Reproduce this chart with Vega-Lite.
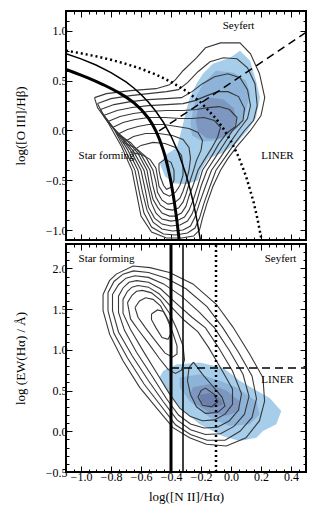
{
"$schema":"https://vega.github.io/schema/vega-lite/v6.json",
"padding":{"left":13,"top":9,"right":5,"bottom":3},
"spacing":0,
"config":{"view":{"stroke":"black","strokeWidth":2},"font":"Liberation Serif","concat":{"spacing":0},
"axis":{"labelFont":"Liberation Serif","titleFont":"Liberation Serif","labelFontSize":12,"titleFontSize":13,"titleFontWeight":"normal","labelColor":"black","titleColor":"black","tickColor":"black","tickWidth":1,"domain":false,"grid":false,"labelOverlap":false,"labelFlush":false,"minExtent":0}},
"datasets":{
"topC":[
{"c":"t1","x":-0.91,"y":0.33},{"c":"t1","x":-0.83,"y":0.37},{"c":"t1","x":-0.67,"y":0.40},{"c":"t1","x":-0.50,"y":0.42},{"c":"t1","x":-0.41,"y":0.46},{"c":"t1","x":-0.37,"y":0.51},{"c":"t1","x":-0.32,"y":0.60},{"c":"t1","x":-0.23,"y":0.73},{"c":"t1","x":-0.17,"y":0.83},{"c":"t1","x":-0.07,"y":0.88},{"c":"t1","x":0.06,"y":0.88},{"c":"t1","x":0.13,"y":0.77},{"c":"t1","x":0.19,"y":0.57},{"c":"t1","x":0.225,"y":0.33},{"c":"t1","x":0.20,"y":0.15},{"c":"t1","x":0.13,"y":0.0},{"c":"t1","x":0.04,"y":-0.16},{"c":"t1","x":-0.02,"y":-0.28},{"c":"t1","x":-0.07,"y":-0.40},{"c":"t1","x":-0.12,"y":-0.56},{"c":"t1","x":-0.16,"y":-0.73},{"c":"t1","x":-0.19,"y":-0.88},{"c":"t1","x":-0.21,"y":-1.00},{"c":"t1","x":-0.25,"y":-1.06},{"c":"t1","x":-0.33,"y":-1.08},{"c":"t1","x":-0.43,"y":-1.08},{"c":"t1","x":-0.53,"y":-1.02},{"c":"t1","x":-0.60,"y":-0.86},{"c":"t1","x":-0.63,"y":-0.63},{"c":"t1","x":-0.66,"y":-0.40},{"c":"t1","x":-0.73,"y":-0.16},{"c":"t1","x":-0.82,"y":0.08},{"c":"t1","x":-0.89,"y":0.23},{"c":"t1","x":-0.91,"y":0.33},
{"c":"t2","x":-0.89,"y":0.27},{"c":"t2","x":-0.80,"y":0.32},{"c":"t2","x":-0.67,"y":0.35},{"c":"t2","x":-0.55,"y":0.37},{"c":"t2","x":-0.43,"y":0.39},{"c":"t2","x":-0.35,"y":0.41},{"c":"t2","x":-0.29,"y":0.48},{"c":"t2","x":-0.22,"y":0.59},{"c":"t2","x":-0.14,"y":0.69},{"c":"t2","x":-0.05,"y":0.73},{"c":"t2","x":0.04,"y":0.72},{"c":"t2","x":0.11,"y":0.63},{"c":"t2","x":0.16,"y":0.47},{"c":"t2","x":0.175,"y":0.25},{"c":"t2","x":0.15,"y":0.10},{"c":"t2","x":0.09,"y":0.0},{"c":"t2","x":0.02,"y":-0.14},{"c":"t2","x":-0.04,"y":-0.27},{"c":"t2","x":-0.10,"y":-0.40},{"c":"t2","x":-0.14,"y":-0.56},{"c":"t2","x":-0.18,"y":-0.73},{"c":"t2","x":-0.21,"y":-0.88},{"c":"t2","x":-0.24,"y":-0.98},{"c":"t2","x":-0.29,"y":-1.03},{"c":"t2","x":-0.37,"y":-1.05},{"c":"t2","x":-0.45,"y":-1.04},{"c":"t2","x":-0.53,"y":-0.97},{"c":"t2","x":-0.58,"y":-0.83},{"c":"t2","x":-0.61,"y":-0.63},{"c":"t2","x":-0.64,"y":-0.40},{"c":"t2","x":-0.71,"y":-0.18},{"c":"t2","x":-0.79,"y":0.04},{"c":"t2","x":-0.86,"y":0.18},{"c":"t2","x":-0.89,"y":0.27},
{"c":"t3","x":-0.87,"y":0.21},{"c":"t3","x":-0.78,"y":0.26},{"c":"t3","x":-0.67,"y":0.29},{"c":"t3","x":-0.55,"y":0.31},{"c":"t3","x":-0.43,"y":0.32},{"c":"t3","x":-0.33,"y":0.33},{"c":"t3","x":-0.26,"y":0.39},{"c":"t3","x":-0.19,"y":0.47},{"c":"t3","x":-0.11,"y":0.54},{"c":"t3","x":-0.02,"y":0.57},{"c":"t3","x":0.06,"y":0.53},{"c":"t3","x":0.11,"y":0.41},{"c":"t3","x":0.13,"y":0.25},{"c":"t3","x":0.11,"y":0.12},{"c":"t3","x":0.05,"y":0.0},{"c":"t3","x":-0.01,"y":-0.13},{"c":"t3","x":-0.07,"y":-0.27},{"c":"t3","x":-0.13,"y":-0.40},{"c":"t3","x":-0.17,"y":-0.56},{"c":"t3","x":-0.21,"y":-0.73},{"c":"t3","x":-0.24,"y":-0.87},{"c":"t3","x":-0.27,"y":-0.96},{"c":"t3","x":-0.32,"y":-1.00},{"c":"t3","x":-0.39,"y":-1.01},{"c":"t3","x":-0.46,"y":-0.99},{"c":"t3","x":-0.52,"y":-0.92},{"c":"t3","x":-0.56,"y":-0.80},{"c":"t3","x":-0.59,"y":-0.62},{"c":"t3","x":-0.62,"y":-0.40},{"c":"t3","x":-0.69,"y":-0.19},{"c":"t3","x":-0.77,"y":0.0},{"c":"t3","x":-0.84,"y":0.13},{"c":"t3","x":-0.87,"y":0.21},
{"c":"t4","x":-0.85,"y":0.15},{"c":"t4","x":-0.76,"y":0.20},{"c":"t4","x":-0.66,"y":0.23},{"c":"t4","x":-0.55,"y":0.25},{"c":"t4","x":-0.43,"y":0.26},{"c":"t4","x":-0.32,"y":0.27},{"c":"t4","x":-0.24,"y":0.30},{"c":"t4","x":-0.16,"y":0.35},{"c":"t4","x":-0.09,"y":0.39},{"c":"t4","x":-0.02,"y":0.39},{"c":"t4","x":0.05,"y":0.34},{"c":"t4","x":0.09,"y":0.22},{"c":"t4","x":0.08,"y":0.10},{"c":"t4","x":0.01,"y":0.0},{"c":"t4","x":-0.04,"y":-0.12},{"c":"t4","x":-0.10,"y":-0.26},{"c":"t4","x":-0.16,"y":-0.40},{"c":"t4","x":-0.20,"y":-0.56},{"c":"t4","x":-0.23,"y":-0.72},{"c":"t4","x":-0.26,"y":-0.84},{"c":"t4","x":-0.29,"y":-0.91},{"c":"t4","x":-0.34,"y":-0.95},{"c":"t4","x":-0.40,"y":-0.96},{"c":"t4","x":-0.46,"y":-0.94},{"c":"t4","x":-0.51,"y":-0.88},{"c":"t4","x":-0.55,"y":-0.77},{"c":"t4","x":-0.57,"y":-0.61},{"c":"t4","x":-0.60,"y":-0.40},{"c":"t4","x":-0.67,"y":-0.20},{"c":"t4","x":-0.75,"y":-0.03},{"c":"t4","x":-0.82,"y":0.08},{"c":"t4","x":-0.85,"y":0.15},
{"c":"t5","x":-0.82,"y":0.09},{"c":"t5","x":-0.74,"y":0.14},{"c":"t5","x":-0.65,"y":0.17},{"c":"t5","x":-0.55,"y":0.19},{"c":"t5","x":-0.43,"y":0.20},{"c":"t5","x":-0.32,"y":0.20},{"c":"t5","x":-0.23,"y":0.21},{"c":"t5","x":-0.15,"y":0.23},{"c":"t5","x":-0.08,"y":0.24},{"c":"t5","x":-0.01,"y":0.21},{"c":"t5","x":0.04,"y":0.13},{"c":"t5","x":0.03,"y":0.04},{"c":"t5","x":-0.03,"y":-0.03},{"c":"t5","x":-0.08,"y":-0.13},{"c":"t5","x":-0.13,"y":-0.26},{"c":"t5","x":-0.19,"y":-0.40},{"c":"t5","x":-0.22,"y":-0.55},{"c":"t5","x":-0.25,"y":-0.69},{"c":"t5","x":-0.28,"y":-0.80},{"c":"t5","x":-0.31,"y":-0.87},{"c":"t5","x":-0.35,"y":-0.90},{"c":"t5","x":-0.40,"y":-0.91},{"c":"t5","x":-0.46,"y":-0.89},{"c":"t5","x":-0.50,"y":-0.83},{"c":"t5","x":-0.53,"y":-0.73},{"c":"t5","x":-0.55,"y":-0.60},{"c":"t5","x":-0.58,"y":-0.40},{"c":"t5","x":-0.65,"y":-0.21},{"c":"t5","x":-0.73,"y":-0.06},{"c":"t5","x":-0.79,"y":0.03},{"c":"t5","x":-0.82,"y":0.09},
{"c":"t6","x":-0.79,"y":0.03},{"c":"t6","x":-0.72,"y":0.08},{"c":"t6","x":-0.64,"y":0.11},{"c":"t6","x":-0.55,"y":0.13},{"c":"t6","x":-0.44,"y":0.13},{"c":"t6","x":-0.34,"y":0.12},{"c":"t6","x":-0.26,"y":0.12},{"c":"t6","x":-0.18,"y":0.13},{"c":"t6","x":-0.11,"y":0.10},{"c":"t6","x":-0.07,"y":0.03},{"c":"t6","x":-0.09,"y":-0.07},{"c":"t6","x":-0.13,"y":-0.18},{"c":"t6","x":-0.18,"y":-0.30},{"c":"t6","x":-0.22,"y":-0.40},{"c":"t6","x":-0.25,"y":-0.54},{"c":"t6","x":-0.28,"y":-0.66},{"c":"t6","x":-0.30,"y":-0.76},{"c":"t6","x":-0.33,"y":-0.83},{"c":"t6","x":-0.37,"y":-0.86},{"c":"t6","x":-0.41,"y":-0.86},{"c":"t6","x":-0.46,"y":-0.83},{"c":"t6","x":-0.49,"y":-0.77},{"c":"t6","x":-0.52,"y":-0.69},{"c":"t6","x":-0.54,"y":-0.57},{"c":"t6","x":-0.56,"y":-0.40},{"c":"t6","x":-0.62,"y":-0.23},{"c":"t6","x":-0.70,"y":-0.09},{"c":"t6","x":-0.76,"y":-0.02},{"c":"t6","x":-0.79,"y":0.03},
{"c":"t7","x":-0.76,"y":-0.04},{"c":"t7","x":-0.69,"y":0.01},{"c":"t7","x":-0.62,"y":0.04},{"c":"t7","x":-0.55,"y":0.06},{"c":"t7","x":-0.45,"y":0.06},{"c":"t7","x":-0.36,"y":0.04},{"c":"t7","x":-0.28,"y":0.02},{"c":"t7","x":-0.22,"y":-0.02},{"c":"t7","x":-0.19,"y":-0.10},{"c":"t7","x":-0.20,"y":-0.20},{"c":"t7","x":-0.23,"y":-0.30},{"c":"t7","x":-0.25,"y":-0.40},{"c":"t7","x":-0.28,"y":-0.54},{"c":"t7","x":-0.30,"y":-0.64},{"c":"t7","x":-0.32,"y":-0.72},{"c":"t7","x":-0.35,"y":-0.78},{"c":"t7","x":-0.39,"y":-0.80},{"c":"t7","x":-0.43,"y":-0.79},{"c":"t7","x":-0.47,"y":-0.75},{"c":"t7","x":-0.50,"y":-0.67},{"c":"t7","x":-0.52,"y":-0.56},{"c":"t7","x":-0.54,"y":-0.40},{"c":"t7","x":-0.60,"y":-0.24},{"c":"t7","x":-0.67,"y":-0.12},{"c":"t7","x":-0.73,"y":-0.07},{"c":"t7","x":-0.76,"y":-0.04},
{"c":"t8","x":-0.72,"y":-0.12},{"c":"t8","x":-0.65,"y":-0.06},{"c":"t8","x":-0.57,"y":-0.03},{"c":"t8","x":-0.48,"y":-0.03},{"c":"t8","x":-0.39,"y":-0.05},{"c":"t8","x":-0.32,"y":-0.09},{"c":"t8","x":-0.28,"y":-0.17},{"c":"t8","x":-0.27,"y":-0.28},{"c":"t8","x":-0.28,"y":-0.40},{"c":"t8","x":-0.30,"y":-0.52},{"c":"t8","x":-0.32,"y":-0.61},{"c":"t8","x":-0.34,"y":-0.68},{"c":"t8","x":-0.38,"y":-0.73},{"c":"t8","x":-0.42,"y":-0.74},{"c":"t8","x":-0.46,"y":-0.70},{"c":"t8","x":-0.49,"y":-0.62},{"c":"t8","x":-0.50,"y":-0.52},{"c":"t8","x":-0.52,"y":-0.40},{"c":"t8","x":-0.57,"y":-0.26},{"c":"t8","x":-0.64,"y":-0.17},{"c":"t8","x":-0.72,"y":-0.12},
{"c":"t9","x":-0.67,"y":-0.22},{"c":"t9","x":-0.60,"y":-0.15},{"c":"t9","x":-0.52,"y":-0.12},{"c":"t9","x":-0.44,"y":-0.13},{"c":"t9","x":-0.37,"y":-0.17},{"c":"t9","x":-0.33,"y":-0.25},{"c":"t9","x":-0.32,"y":-0.35},{"c":"t9","x":-0.32,"y":-0.45},{"c":"t9","x":-0.34,"y":-0.55},{"c":"t9","x":-0.37,"y":-0.62},{"c":"t9","x":-0.41,"y":-0.66},{"c":"t9","x":-0.45,"y":-0.63},{"c":"t9","x":-0.48,"y":-0.56},{"c":"t9","x":-0.49,"y":-0.47},{"c":"t9","x":-0.50,"y":-0.38},{"c":"t9","x":-0.54,"y":-0.29},{"c":"t9","x":-0.60,"y":-0.24},{"c":"t9","x":-0.67,"y":-0.22},
{"c":"t10","x":-0.48,"y":-0.33},{"c":"t10","x":-0.44,"y":-0.29},{"c":"t10","x":-0.40,"y":-0.32},{"c":"t10","x":-0.38,"y":-0.40},{"c":"t10","x":-0.38,"y":-0.50},{"c":"t10","x":-0.40,"y":-0.57},{"c":"t10","x":-0.43,"y":-0.59},{"c":"t10","x":-0.45,"y":-0.55},{"c":"t10","x":-0.47,"y":-0.47},{"c":"t10","x":-0.48,"y":-0.40},{"c":"t10","x":-0.48,"y":-0.33}
],
"topB":[
{"lev":"l1","x":0.06,"y":0.80},{"lev":"l1","x":0.127,"y":0.70},{"lev":"l1","x":0.167,"y":0.50},{"lev":"l1","x":0.193,"y":0.33},{"lev":"l1","x":0.167,"y":0.13},{"lev":"l1","x":0.11,"y":0.0},{"lev":"l1","x":0.04,"y":-0.12},{"lev":"l1","x":-0.05,"y":-0.22},{"lev":"l1","x":-0.15,"y":-0.28},{"lev":"l1","x":-0.20,"y":-0.40},{"lev":"l1","x":-0.22,"y":-0.50},{"lev":"l1","x":-0.30,"y":-0.54},{"lev":"l1","x":-0.38,"y":-0.53},{"lev":"l1","x":-0.44,"y":-0.46},{"lev":"l1","x":-0.475,"y":-0.33},{"lev":"l1","x":-0.43,"y":-0.24},{"lev":"l1","x":-0.36,"y":-0.17},{"lev":"l1","x":-0.32,"y":0.065},{"lev":"l1","x":-0.29,"y":0.25},{"lev":"l1","x":-0.273,"y":0.33},{"lev":"l1","x":-0.23,"y":0.47},{"lev":"l1","x":-0.187,"y":0.57},{"lev":"l1","x":-0.12,"y":0.67},{"lev":"l1","x":-0.007,"y":0.73},{"lev":"l1","x":0.06,"y":0.80},
{"lev":"l2","x":-0.10,"y":0.60},{"lev":"l2","x":0.02,"y":0.58},{"lev":"l2","x":0.10,"y":0.50},{"lev":"l2","x":0.127,"y":0.37},{"lev":"l2","x":0.10,"y":0.20},{"lev":"l2","x":0.06,"y":0.05},{"lev":"l2","x":-0.02,"y":-0.06},{"lev":"l2","x":-0.10,"y":-0.10},{"lev":"l2","x":-0.19,"y":-0.11},{"lev":"l2","x":-0.26,"y":-0.05},{"lev":"l2","x":-0.27,"y":0.08},{"lev":"l2","x":-0.253,"y":0.20},{"lev":"l2","x":-0.23,"y":0.35},{"lev":"l2","x":-0.18,"y":0.48},{"lev":"l2","x":-0.10,"y":0.60},
{"lev":"l3","x":-0.14,"y":0.33},{"lev":"l3","x":-0.05,"y":0.31},{"lev":"l3","x":0.02,"y":0.22},{"lev":"l3","x":0.035,"y":0.10},{"lev":"l3","x":0.0,"y":-0.03},{"lev":"l3","x":-0.08,"y":-0.08},{"lev":"l3","x":-0.16,"y":-0.08},{"lev":"l3","x":-0.22,"y":-0.01},{"lev":"l3","x":-0.235,"y":0.10},{"lev":"l3","x":-0.22,"y":0.22},{"lev":"l3","x":-0.14,"y":0.33}
],
"topL":[
{"id":"sta","x":-1.1,"y":0.613},{"id":"sta","x":-1.05,"y":0.585},{"id":"sta","x":-1.0,"y":0.556},{"id":"sta","x":-0.95,"y":0.526},{"id":"sta","x":-0.9,"y":0.493},{"id":"sta","x":-0.85,"y":0.459},{"id":"sta","x":-0.8,"y":0.422},{"id":"sta","x":-0.75,"y":0.381},{"id":"sta","x":-0.7,"y":0.335},{"id":"sta","x":-0.65,"y":0.281},{"id":"sta","x":-0.6,"y":0.213},{"id":"sta","x":-0.55,"y":0.123},{"id":"sta","x":-0.525,"y":0.064},{"id":"sta","x":-0.5,"y":-0.007},{"id":"sta","x":-0.475,"y":-0.095},{"id":"sta","x":-0.45,"y":-0.205},{"id":"sta","x":-0.44,"y":-0.256},{"id":"sta","x":-0.42,"y":-0.376},{"id":"sta","x":-0.41,"y":-0.445},{"id":"sta","x":-0.4,"y":-0.521},{"id":"sta","x":-0.39,"y":-0.605},{"id":"sta","x":-0.38,"y":-0.698},{"id":"sta","x":-0.37,"y":-0.801},{"id":"sta","x":-0.36,"y":-0.915},{"id":"sta","x":-0.35,"y":-1.042},{"id":"sta","x":-0.345,"y":-1.110},
{"id":"kau","x":-1.1,"y":0.770},{"id":"kau","x":-1.0,"y":0.719},{"id":"kau","x":-0.9,"y":0.658},{"id":"kau","x":-0.8,"y":0.582},{"id":"kau","x":-0.7,"y":0.487},{"id":"kau","x":-0.65,"y":0.429},{"id":"kau","x":-0.6,"y":0.362},{"id":"kau","x":-0.55,"y":0.283},{"id":"kau","x":-0.5,"y":0.191},{"id":"kau","x":-0.45,"y":0.080},{"id":"kau","x":-0.4,"y":-0.056},{"id":"kau","x":-0.35,"y":-0.225},{"id":"kau","x":-0.3,"y":-0.443},{"id":"kau","x":-0.275,"y":-0.577},{"id":"kau","x":-0.25,"y":-0.733},{"id":"kau","x":-0.225,"y":-0.918},{"id":"kau","x":-0.2,"y":-1.140},
{"id":"kew","x":-1.1,"y":0.802},{"id":"kew","x":-1.0,"y":0.775},{"id":"kew","x":-0.9,"y":0.745},{"id":"kew","x":-0.8,"y":0.710},{"id":"kew","x":-0.7,"y":0.669},{"id":"kew","x":-0.6,"y":0.620},{"id":"kew","x":-0.5,"y":0.561},{"id":"kew","x":-0.4,"y":0.489},{"id":"kew","x":-0.3,"y":0.398},{"id":"kew","x":-0.2,"y":0.280},{"id":"kew","x":-0.1,"y":0.120},{"id":"kew","x":-0.05,"y":0.017},{"id":"kew","x":0.0,"y":-0.108},{"id":"kew","x":0.05,"y":-0.262},{"id":"kew","x":0.1,"y":-0.459},{"id":"kew","x":0.15,"y":-0.716},{"id":"kew","x":0.175,"y":-0.878},{"id":"kew","x":0.2,"y":-1.069},{"id":"kew","x":0.21,"y":-1.156},
{"id":"cid","x":-0.48,"y":-0.005},{"id":"cid","x":0.5,"y":0.985}
],
"botC":[
{"c":"m1","x":-0.853,"y":1.68},{"c":"m1","x":-0.81,"y":1.85},{"c":"m1","x":-0.765,"y":1.93},{"c":"m1","x":-0.653,"y":2.03},{"c":"m1","x":-0.54,"y":2.01},{"c":"m1","x":-0.41,"y":1.95},{"c":"m1","x":-0.254,"y":1.81},{"c":"m1","x":-0.098,"y":1.56},{"c":"m1","x":0.013,"y":1.28},{"c":"m1","x":0.124,"y":0.95},{"c":"m1","x":0.213,"y":0.66},{"c":"m1","x":0.224,"y":0.37},{"c":"m1","x":0.19,"y":0.13},{"c":"m1","x":0.10,"y":-0.08},{"c":"m1","x":-0.031,"y":-0.18},{"c":"m1","x":-0.164,"y":-0.16},{"c":"m1","x":-0.276,"y":-0.08},{"c":"m1","x":-0.387,"y":0.045},{"c":"m1","x":-0.498,"y":0.29},{"c":"m1","x":-0.609,"y":0.54},{"c":"m1","x":-0.72,"y":0.865},{"c":"m1","x":-0.809,"y":1.19},{"c":"m1","x":-0.853,"y":1.48},{"c":"m1","x":-0.853,"y":1.68},
{"c":"m2","x":-0.82,"y":1.70},{"c":"m2","x":-0.78,"y":1.84},{"c":"m2","x":-0.72,"y":1.93},{"c":"m2","x":-0.65,"y":1.97},{"c":"m2","x":-0.55,"y":1.95},{"c":"m2","x":-0.43,"y":1.88},{"c":"m2","x":-0.30,"y":1.75},{"c":"m2","x":-0.16,"y":1.53},{"c":"m2","x":-0.054,"y":1.27},{"c":"m2","x":0.05,"y":0.97},{"c":"m2","x":0.14,"y":0.68},{"c":"m2","x":0.17,"y":0.40},{"c":"m2","x":0.14,"y":0.17},{"c":"m2","x":0.06,"y":0.0},{"c":"m2","x":-0.04,"y":-0.11},{"c":"m2","x":-0.16,"y":-0.11},{"c":"m2","x":-0.27,"y":-0.04},{"c":"m2","x":-0.37,"y":0.08},{"c":"m2","x":-0.47,"y":0.32},{"c":"m2","x":-0.58,"y":0.58},{"c":"m2","x":-0.69,"y":0.90},{"c":"m2","x":-0.78,"y":1.20},{"c":"m2","x":-0.82,"y":1.48},{"c":"m2","x":-0.82,"y":1.70},
{"c":"m3","x":-0.79,"y":1.68},{"c":"m3","x":-0.75,"y":1.80},{"c":"m3","x":-0.70,"y":1.88},{"c":"m3","x":-0.64,"y":1.91},{"c":"m3","x":-0.55,"y":1.89},{"c":"m3","x":-0.45,"y":1.81},{"c":"m3","x":-0.33,"y":1.66},{"c":"m3","x":-0.21,"y":1.46},{"c":"m3","x":-0.11,"y":1.27},{"c":"m3","x":-0.01,"y":0.99},{"c":"m3","x":0.08,"y":0.70},{"c":"m3","x":0.12,"y":0.43},{"c":"m3","x":0.09,"y":0.21},{"c":"m3","x":0.02,"y":0.06},{"c":"m3","x":-0.07,"y":-0.03},{"c":"m3","x":-0.17,"y":-0.04},{"c":"m3","x":-0.27,"y":0.02},{"c":"m3","x":-0.36,"y":0.14},{"c":"m3","x":-0.45,"y":0.36},{"c":"m3","x":-0.55,"y":0.62},{"c":"m3","x":-0.66,"y":0.93},{"c":"m3","x":-0.75,"y":1.22},{"c":"m3","x":-0.79,"y":1.48},{"c":"m3","x":-0.79,"y":1.68},
{"c":"m4","x":-0.75,"y":1.66},{"c":"m4","x":-0.72,"y":1.76},{"c":"m4","x":-0.68,"y":1.83},{"c":"m4","x":-0.63,"y":1.85},{"c":"m4","x":-0.55,"y":1.83},{"c":"m4","x":-0.47,"y":1.75},{"c":"m4","x":-0.37,"y":1.58},{"c":"m4","x":-0.26,"y":1.40},{"c":"m4","x":-0.17,"y":1.27},{"c":"m4","x":-0.08,"y":1.02},{"c":"m4","x":0.01,"y":0.74},{"c":"m4","x":0.07,"y":0.46},{"c":"m4","x":0.05,"y":0.26},{"c":"m4","x":-0.01,"y":0.13},{"c":"m4","x":-0.09,"y":0.05},{"c":"m4","x":-0.18,"y":0.04},{"c":"m4","x":-0.27,"y":0.09},{"c":"m4","x":-0.35,"y":0.20},{"c":"m4","x":-0.43,"y":0.40},{"c":"m4","x":-0.52,"y":0.66},{"c":"m4","x":-0.63,"y":0.97},{"c":"m4","x":-0.71,"y":1.24},{"c":"m4","x":-0.75,"y":1.46},{"c":"m4","x":-0.75,"y":1.66},
{"c":"m5","x":-0.72,"y":1.62},{"c":"m5","x":-0.69,"y":1.72},{"c":"m5","x":-0.66,"y":1.77},{"c":"m5","x":-0.62,"y":1.79},{"c":"m5","x":-0.55,"y":1.77},{"c":"m5","x":-0.48,"y":1.69},{"c":"m5","x":-0.40,"y":1.53},{"c":"m5","x":-0.31,"y":1.36},{"c":"m5","x":-0.22,"y":1.22},{"c":"m5","x":-0.15,"y":1.03},{"c":"m5","x":-0.07,"y":0.78},{"c":"m5","x":0.01,"y":0.52},{"c":"m5","x":0.01,"y":0.33},{"c":"m5","x":-0.04,"y":0.21},{"c":"m5","x":-0.11,"y":0.14},{"c":"m5","x":-0.19,"y":0.13},{"c":"m5","x":-0.27,"y":0.18},{"c":"m5","x":-0.34,"y":0.28},{"c":"m5","x":-0.41,"y":0.46},{"c":"m5","x":-0.49,"y":0.70},{"c":"m5","x":-0.59,"y":1.00},{"c":"m5","x":-0.67,"y":1.25},{"c":"m5","x":-0.72,"y":1.45},{"c":"m5","x":-0.72,"y":1.62},
{"c":"m6","x":-0.69,"y":1.58},{"c":"m6","x":-0.66,"y":1.67},{"c":"m6","x":-0.63,"y":1.72},{"c":"m6","x":-0.59,"y":1.73},{"c":"m6","x":-0.53,"y":1.70},{"c":"m6","x":-0.47,"y":1.61},{"c":"m6","x":-0.41,"y":1.45},{"c":"m6","x":-0.36,"y":1.25},{"c":"m6","x":-0.32,"y":1.05},{"c":"m6","x":-0.31,"y":0.88},{"c":"m6","x":-0.33,"y":0.75},{"c":"m6","x":-0.37,"y":0.71},{"c":"m6","x":-0.42,"y":0.76},{"c":"m6","x":-0.48,"y":0.90},{"c":"m6","x":-0.55,"y":1.08},{"c":"m6","x":-0.62,"y":1.25},{"c":"m6","x":-0.67,"y":1.38},{"c":"m6","x":-0.69,"y":1.58},
{"c":"m7","x":-0.64,"y":1.52},{"c":"m7","x":-0.61,"y":1.60},{"c":"m7","x":-0.57,"y":1.64},{"c":"m7","x":-0.52,"y":1.62},{"c":"m7","x":-0.47,"y":1.54},{"c":"m7","x":-0.43,"y":1.40},{"c":"m7","x":-0.39,"y":1.22},{"c":"m7","x":-0.36,"y":1.05},{"c":"m7","x":-0.36,"y":0.95},{"c":"m7","x":-0.39,"y":0.91},{"c":"m7","x":-0.44,"y":0.96},{"c":"m7","x":-0.50,"y":1.10},{"c":"m7","x":-0.57,"y":1.27},{"c":"m7","x":-0.62,"y":1.40},{"c":"m7","x":-0.64,"y":1.52},
{"c":"m8","x":-0.53,"y":1.44},{"c":"m8","x":-0.49,"y":1.49},{"c":"m8","x":-0.45,"y":1.47},{"c":"m8","x":-0.41,"y":1.34},{"c":"m8","x":-0.40,"y":1.20},{"c":"m8","x":-0.42,"y":1.13},{"c":"m8","x":-0.46,"y":1.15},{"c":"m8","x":-0.50,"y":1.27},{"c":"m8","x":-0.53,"y":1.37},{"c":"m8","x":-0.53,"y":1.44},
{"c":"q1","x":-0.25,"y":0.85},{"c":"q1","x":-0.19,"y":0.70},{"c":"q1","x":-0.12,"y":0.55},{"c":"q1","x":-0.06,"y":0.42},{"c":"q1","x":-0.04,"y":0.31},{"c":"q1","x":-0.09,"y":0.23},{"c":"q1","x":-0.17,"y":0.22},{"c":"q1","x":-0.23,"y":0.30},{"c":"q1","x":-0.27,"y":0.45},{"c":"q1","x":-0.29,"y":0.62},{"c":"q1","x":-0.28,"y":0.78},{"c":"q1","x":-0.25,"y":0.85},
{"c":"q2","x":-0.17,"y":0.53},{"c":"q2","x":-0.11,"y":0.45},{"c":"q2","x":-0.09,"y":0.36},{"c":"q2","x":-0.13,"y":0.30},{"c":"q2","x":-0.19,"y":0.32},{"c":"q2","x":-0.22,"y":0.42},{"c":"q2","x":-0.20,"y":0.50},{"c":"q2","x":-0.17,"y":0.53}
],
"botB":[
{"lev":"l1","x":-0.453,"y":0.74},{"lev":"l1","x":-0.364,"y":0.82},{"lev":"l1","x":-0.209,"y":0.844},{"lev":"l1","x":-0.053,"y":0.78},{"lev":"l1","x":0.058,"y":0.62},{"lev":"l1","x":0.169,"y":0.50},{"lev":"l1","x":0.258,"y":0.41},{"lev":"l1","x":0.335,"y":0.25},{"lev":"l1","x":0.302,"y":0.086},{"lev":"l1","x":0.213,"y":0.004},{"lev":"l1","x":0.169,"y":-0.08},{"lev":"l1","x":0.058,"y":-0.12},{"lev":"l1","x":-0.053,"y":-0.06},{"lev":"l1","x":-0.209,"y":0.086},{"lev":"l1","x":-0.342,"y":0.29},{"lev":"l1","x":-0.442,"y":0.54},{"lev":"l1","x":-0.476,"y":0.66},{"lev":"l1","x":-0.453,"y":0.74},
{"lev":"l2","x":-0.342,"y":0.66},{"lev":"l2","x":-0.209,"y":0.70},{"lev":"l2","x":-0.076,"y":0.62},{"lev":"l2","x":0.035,"y":0.54},{"lev":"l2","x":0.169,"y":0.37},{"lev":"l2","x":0.191,"y":0.21},{"lev":"l2","x":0.124,"y":0.086},{"lev":"l2","x":-0.009,"y":0.065},{"lev":"l2","x":-0.142,"y":0.17},{"lev":"l2","x":-0.276,"y":0.37},{"lev":"l2","x":-0.342,"y":0.54},{"lev":"l2","x":-0.342,"y":0.66},
{"lev":"l3","x":-0.254,"y":0.54},{"lev":"l3","x":-0.142,"y":0.58},{"lev":"l3","x":-0.031,"y":0.50},{"lev":"l3","x":0.058,"y":0.37},{"lev":"l3","x":0.058,"y":0.25},{"lev":"l3","x":-0.031,"y":0.19},{"lev":"l3","x":-0.142,"y":0.23},{"lev":"l3","x":-0.231,"y":0.33},{"lev":"l3","x":-0.276,"y":0.43},{"lev":"l3","x":-0.254,"y":0.54},
{"lev":"l4","x":-0.209,"y":0.45},{"lev":"l4","x":-0.142,"y":0.47},{"lev":"l4","x":-0.076,"y":0.41},{"lev":"l4","x":-0.053,"y":0.33},{"lev":"l4","x":-0.12,"y":0.29},{"lev":"l4","x":-0.20,"y":0.35},{"lev":"l4","x":-0.209,"y":0.45}
],
"botL":[
{"id":"v1","x":-0.4,"y":-0.5},{"id":"v1","x":-0.4,"y":2.3},
{"id":"v2","x":-0.32,"y":-0.5},{"id":"v2","x":-0.32,"y":2.3},
{"id":"v3","x":-0.1,"y":-0.5},{"id":"v3","x":-0.1,"y":2.3},
{"id":"h","x":-0.4,"y":0.778},{"id":"h","x":0.5,"y":0.778}
],
"txt":[
{"p":"t","t":"Seyfert","x":0.05,"y":1.05},{"p":"t","t":"LINER","x":0.31,"y":-0.26},{"p":"t","t":"Star forming","x":-0.83,"y":-0.26},
{"p":"b","t":"Star forming","x":-0.83,"y":2.11},{"p":"b","t":"Seyfert","x":0.33,"y":2.11},{"p":"b","t":"LINER","x":0.31,"y":0.63}
]
},
"resolve":{"scale":{"x":"independent","y":"independent"}},
"vconcat":[
{"width":240,"height":229,
"resolve":{"axis":{"x":"independent","y":"independent"}},
"layer":[
{"data":{"name":"topB"},"mark":{"type":"line","strokeOpacity":0,"clip":true},
"encoding":{
"x":{"field":"x","type":"quantitative","scale":{"domain":[-1.1,0.5],"nice":false,"zero":false},
"axis":{"orient":"bottom","maxExtent":0,"values":[-1.05,-1,-0.95,-0.9,-0.85,-0.8,-0.75,-0.7,-0.65,-0.6,-0.55,-0.5,-0.45,-0.4,-0.35,-0.3,-0.25,-0.2,-0.15,-0.1,-0.05,0,0.05,0.1,0.15,0.2,0.25,0.3,0.35,0.4,0.45],"labels":false,"title":null,"labelPadding":0,"tickSize":{"condition":{"test":"abs(datum.value*5-round(datum.value*5))<0.01","value":-6},"value":-3}}},
"y":{"field":"y","type":"quantitative","scale":{"domain":[-1.1,1.2],"nice":false,"zero":false},
"axis":{"orient":"left","values":[-1,-0.9,-0.8,-0.7,-0.6,-0.5,-0.4,-0.3,-0.2,-0.1,0,0.1,0.2,0.3,0.4,0.5,0.6,0.7,0.8,0.9,1,1.1],"format":".1f","labelExpr":"abs(datum.value*2-round(datum.value*2))<0.01 ? datum.label : ''","labelPadding":5,"title":"log([O III]/Hβ)","titlePadding":18,"tickSize":{"condition":{"test":"abs(datum.value*2-round(datum.value*2))<0.01","value":-6},"value":-3}}},
"fill":{"field":"lev","type":"nominal","scale":{"domain":["l1","l2","l3","l4"],"range":["#a6cde9","#8db3d8","#7d97c0","#6a7fab"]},"legend":null},
"detail":{"field":"lev"},"order":{"value":null}}},
{"data":{"name":"topC"},"mark":{"type":"line","color":"#383838","strokeWidth":1.1,"clip":true},
"encoding":{"x":{"field":"x","type":"quantitative","axis":null},"y":{"field":"y","type":"quantitative","axis":null},"detail":{"field":"c"},"order":{"value":null}}},
{"data":{"name":"topL"},"transform":[{"filter":"datum.id=='sta'"}],"mark":{"type":"line","color":"black","strokeWidth":3,"clip":true},
"encoding":{"x":{"field":"x","type":"quantitative","axis":null},"y":{"field":"y","type":"quantitative","axis":null},"order":{"value":null}}},
{"data":{"name":"topL"},"transform":[{"filter":"datum.id=='kau'"}],"mark":{"type":"line","color":"black","strokeWidth":1.5,"clip":true},
"encoding":{"x":{"field":"x","type":"quantitative","axis":null},"y":{"field":"y","type":"quantitative","axis":null},"order":{"value":null}}},
{"data":{"name":"topL"},"transform":[{"filter":"datum.id=='kew'"}],"mark":{"type":"line","color":"black","strokeWidth":2.5,"strokeDash":[2,3],"clip":true},
"encoding":{"x":{"field":"x","type":"quantitative","axis":null},"y":{"field":"y","type":"quantitative","axis":null},"order":{"value":null}}},
{"data":{"name":"txt"},"transform":[{"filter":"datum.p=='t'"}],"mark":{"type":"text","font":"Liberation Serif","fontSize":11,"color":"black","baseline":"middle"},
"encoding":{"x":{"field":"x","type":"quantitative","axis":null},"y":{"field":"y","type":"quantitative","axis":null},"text":{"field":"t"}}},
{"data":{"name":"topL"},"transform":[{"filter":"datum.id=='cid'"}],"mark":{"type":"line","color":"black","strokeWidth":1.5,"strokeDash":[8,5],"clip":true},
"encoding":{
"x":{"field":"x","type":"quantitative","axis":{"orient":"top","maxExtent":0,"values":[-1.05,-1,-0.95,-0.9,-0.85,-0.8,-0.75,-0.7,-0.65,-0.6,-0.55,-0.5,-0.45,-0.4,-0.35,-0.3,-0.25,-0.2,-0.15,-0.1,-0.05,0,0.05,0.1,0.15,0.2,0.25,0.3,0.35,0.4,0.45],"labels":false,"title":null,"labelPadding":0,"tickSize":{"condition":{"test":"abs(datum.value*5-round(datum.value*5))<0.01","value":-6},"value":-3}}},
"y":{"field":"y","type":"quantitative","axis":{"orient":"right","maxExtent":0,"values":[-1,-0.9,-0.8,-0.7,-0.6,-0.5,-0.4,-0.3,-0.2,-0.1,0,0.1,0.2,0.3,0.4,0.5,0.6,0.7,0.8,0.9,1,1.1],"labels":false,"title":null,"labelPadding":0,"tickSize":{"condition":{"test":"abs(datum.value*2-round(datum.value*2))<0.01","value":-6},"value":-3}}},
"order":{"value":null}}}
]},
{"width":240,"height":228,
"resolve":{"axis":{"x":"independent","y":"independent"}},
"layer":[
{"data":{"name":"botB"},"mark":{"type":"line","strokeOpacity":0,"clip":true},
"encoding":{
"x":{"field":"x","type":"quantitative","scale":{"domain":[-1.1,0.5],"nice":false,"zero":false},
"axis":{"orient":"bottom","values":[-1.05,-1,-0.95,-0.9,-0.85,-0.8,-0.75,-0.7,-0.65,-0.6,-0.55,-0.5,-0.45,-0.4,-0.35,-0.3,-0.25,-0.2,-0.15,-0.1,-0.05,0,0.05,0.1,0.15,0.2,0.25,0.3,0.35,0.4,0.45],"format":".1f","labelExpr":"abs(datum.value*5-round(datum.value*5))<0.01 ? datum.label : ''","labelPadding":5,"title":"log([N II]/Hα)","titlePadding":5,"tickSize":{"condition":{"test":"abs(datum.value*5-round(datum.value*5))<0.01","value":-6},"value":-3}}},
"y":{"field":"y","type":"quantitative","scale":{"domain":[-0.5,2.3],"nice":false,"zero":false},
"axis":{"orient":"left","values":[-0.5,-0.4,-0.3,-0.2,-0.1,0,0.1,0.2,0.3,0.4,0.5,0.6,0.7,0.8,0.9,1,1.1,1.2,1.3,1.4,1.5,1.6,1.7,1.8,1.9,2,2.1,2.2],"format":".1f","labelExpr":"abs(datum.value*2-round(datum.value*2))<0.01 ? datum.label : ''","labelPadding":5,"title":"log (EW(Hα) / Å)","titlePadding":18,"tickSize":{"condition":{"test":"abs(datum.value*2-round(datum.value*2))<0.01","value":-6},"value":-3}}},
"fill":{"field":"lev","type":"nominal","scale":{"domain":["l1","l2","l3","l4"],"range":["#a6cde9","#8db3d8","#7d97c0","#6a7fab"]},"legend":null},
"detail":{"field":"lev"},"order":{"value":null}}},
{"data":{"name":"botC"},"mark":{"type":"line","color":"#383838","strokeWidth":1.1,"clip":true},
"encoding":{"x":{"field":"x","type":"quantitative","axis":null},"y":{"field":"y","type":"quantitative","axis":null},"detail":{"field":"c"},"order":{"value":null}}},
{"data":{"name":"botL"},"transform":[{"filter":"datum.id=='v1'"}],"mark":{"type":"line","color":"black","strokeWidth":3,"clip":true},
"encoding":{"x":{"field":"x","type":"quantitative","axis":null},"y":{"field":"y","type":"quantitative","axis":null},"order":{"value":null}}},
{"data":{"name":"botL"},"transform":[{"filter":"datum.id=='v2'"}],"mark":{"type":"line","color":"black","strokeWidth":1.5,"clip":true},
"encoding":{"x":{"field":"x","type":"quantitative","axis":null},"y":{"field":"y","type":"quantitative","axis":null},"order":{"value":null}}},
{"data":{"name":"botL"},"transform":[{"filter":"datum.id=='v3'"}],"mark":{"type":"line","color":"black","strokeWidth":2.5,"strokeDash":[2,3],"clip":true},
"encoding":{"x":{"field":"x","type":"quantitative","axis":null},"y":{"field":"y","type":"quantitative","axis":null},"order":{"value":null}}},
{"data":{"name":"txt"},"transform":[{"filter":"datum.p=='b'"}],"mark":{"type":"text","font":"Liberation Serif","fontSize":11,"color":"black","baseline":"middle"},
"encoding":{"x":{"field":"x","type":"quantitative","axis":null},"y":{"field":"y","type":"quantitative","axis":null},"text":{"field":"t"}}},
{"data":{"name":"botL"},"transform":[{"filter":"datum.id=='h'"}],"mark":{"type":"line","color":"black","strokeWidth":1.5,"strokeDash":[8,5],"clip":true},
"encoding":{
"x":{"field":"x","type":"quantitative","axis":{"orient":"top","maxExtent":0,"values":[-1.05,-1,-0.95,-0.9,-0.85,-0.8,-0.75,-0.7,-0.65,-0.6,-0.55,-0.5,-0.45,-0.4,-0.35,-0.3,-0.25,-0.2,-0.15,-0.1,-0.05,0,0.05,0.1,0.15,0.2,0.25,0.3,0.35,0.4,0.45],"labels":false,"title":null,"labelPadding":0,"tickSize":{"condition":{"test":"abs(datum.value*5-round(datum.value*5))<0.01","value":-6},"value":-3}}},
"y":{"field":"y","type":"quantitative","axis":{"orient":"right","maxExtent":0,"values":[-0.4,-0.3,-0.2,-0.1,0,0.1,0.2,0.3,0.4,0.5,0.6,0.7,0.8,0.9,1,1.1,1.2,1.3,1.4,1.5,1.6,1.7,1.8,1.9,2,2.1,2.2],"labels":false,"title":null,"labelPadding":0,"tickSize":{"condition":{"test":"abs(datum.value*2-round(datum.value*2))<0.01","value":-6},"value":-3}}},
"order":{"value":null}}}
]}
]
}
